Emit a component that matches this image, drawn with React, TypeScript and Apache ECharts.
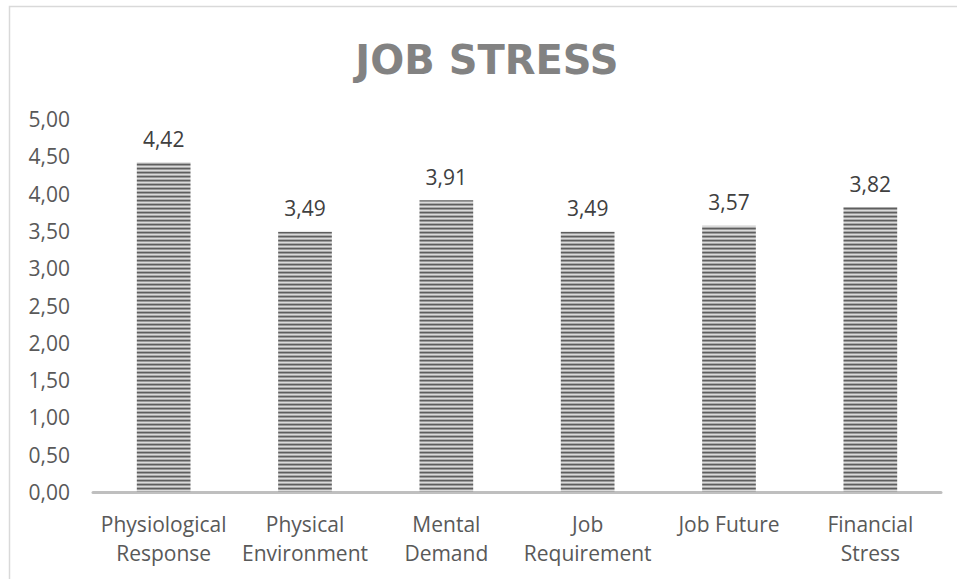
import React, { useEffect, useRef } from "react";
import * as echarts from "echarts";

const categories = [
  "Physiological\nResponse",
  "Physical\nEnvironment",
  "Mental\nDemand",
  "Job\nRequirement",
  "Job Future",
  "Financial\nStress",
];
const values = [4.42, 3.49, 3.91, 3.49, 3.57, 3.82];
const yMin = 0;
const yMax = 5;
const yInterval = 0.5;

function makeStripe(): HTMLCanvasElement {
  const c = document.createElement("canvas");
  c.width = 4;
  c.height = 4;
  const ctx = c.getContext("2d")!;
  const rows = ["#5e5e5e", "#9a9a9a", "#dadada", "#aaaaaa"];
  rows.forEach((col, i) => {
    ctx.fillStyle = col;
    ctx.fillRect(0, i, 4, 1);
  });
  return c;
}

const fmt = (v: number) => v.toFixed(2).replace(".", ",");

export default function App() {
  const ref = useRef<HTMLDivElement>(null);
  useEffect(() => {
    if (!ref.current) return;
    const chart = echarts.init(ref.current, undefined, { renderer: "svg" });
    const font = "'Open Sans', sans-serif";
    chart.setOption({
      animation: false,
      backgroundColor: "#ffffff",
      title: {
        text: "JOB STRESS",
        left: 482,
        top: 35,
        textAlign: "center",
        textStyle: {
          fontFamily: "'DejaVu Sans', sans-serif",
          fontSize: 40,
          fontWeight: "bold",
          color: "#828282",
        },
      },
      graphic: [
        {
          type: "rect",
          shape: { x: 9.5, y: 6.5, width: 1200, height: 1200 },
          style: { fill: "none", stroke: "#d9d9d9", lineWidth: 1.5 },
          silent: true,
        },
      ],
      grid: { left: 93, right: 16, top: 119, bottom: 87, containLabel: false },
      xAxis: {
        type: "category",
        data: categories,
        axisTick: { show: false },
        axisLine: { lineStyle: { color: "#bfbfbf", width: 3 } },
        axisLabel: {
          fontFamily: font,
          fontSize: 21,
          color: "#595959",
          lineHeight: 29,
          margin: 17,
          interval: 0,
        },
      },
      yAxis: {
        type: "value",
        min: yMin,
        max: yMax,
        interval: yInterval,
        splitLine: { show: false },
        axisLine: { show: false },
        axisTick: { show: false },
        axisLabel: {
          fontFamily: font,
          fontSize: 21,
          color: "#595959",
          margin: 23,
          formatter: (v: number) => fmt(v),
        },
      },
      series: [
        {
          type: "bar",
          data: values,
          barWidth: "38%",
          itemStyle: {
            color: { image: makeStripe(), repeat: "repeat" } as any,
          },
          label: {
            show: true,
            position: "top",
            distance: 13,
            fontFamily: font,
            fontSize: 21,
            color: "#404040",
            formatter: (p: any) => fmt(p.value),
          },
        },
      ],
    });
    return () => chart.dispose();
  }, []);
  return (
    <div
      ref={ref}
      style={{ position: "fixed", left: 0, top: 0, width: 957, height: 579 }}
    />
  );
}
